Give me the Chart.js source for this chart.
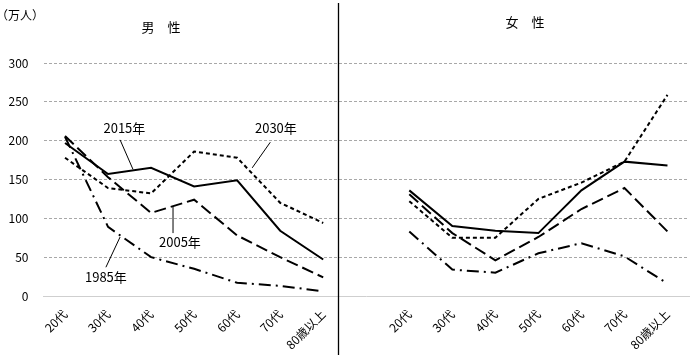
<!DOCTYPE html>
<html>
<head>
<meta charset="utf-8">
<script src="https://cdn.jsdelivr.net/npm/chart.js@4/dist/chart.umd.min.js"></script>
<style>
  body { margin: 0; background: #fff; }
  #wrap { width: 690px; height: 360px; }
</style>
</head>
<body>
<div id="wrap"><canvas id="myChart" width="690" height="360"></canvas></div>
<script>
// age groups (same for both panels)
var ageLabels = ["20代", "30代", "40代", "50代", "60代", "70代", "80歳以上"];

// 男性 (万人)
var male1985 = [205, 89, 50, 35, 17, 13, 6];
var male2005 = [206, 153, 107, 124, 78, 50, 24];
var male2015 = [197, 157, 165, 141, 149, 84, 47];
var male2030 = [178, 139, 132, 186, 178, 120, 94];

// 女性 (万人)
var female1985 = [83, 34, 30, 55, 68, 51, 16];
var female2005 = [131, 81, 46, 76, 112, 139, 83];
var female2015 = [136, 90, 84, 81, 136, 173, 168];
var female2030 = [122, 75, 75, 125, 146, 173, 259];

var yTicks = [0, 50, 100, 150, 200, 250, 300];

// one empty slot between the two panels
function joinPanels(left, right) {
  return left.concat([null], right);
}
var allLabels = ageLabels.concat([""], ageLabels);

// where the year labels + leader lines go (category index, value)
var yearNotes = [
  { text: "2015年", at: [1.38, 216], line: [[1.28, 201], [1.58, 163]] },
  { text: "2030年", at: [4.90, 216], line: [[4.77, 198], [4.35, 165]] },
  { text: "2005年", at: [2.67, 69], line: [[2.51, 115], [2.51, 81]] },
  { text: "1985年", at: [0.95, 24], line: [[1.28, 76], [0.95, 37]] }
];

Chart.defaults.font.family = "'Noto Sans CJK JP', 'Noto Sans', sans-serif";
Chart.defaults.color = "#000";

var extras = {
  id: "extras",
  afterDraw: function (chart) {
    var ctx = chart.ctx;
    var xs = chart.scales.x, ys = chart.scales.y;
    ctx.save();
    // panel separator
    var sepX = Math.round(xs.getPixelForValue(6.35)) + 0.5;
    ctx.strokeStyle = "#000";
    ctx.lineWidth = 1.3;
    ctx.beginPath();
    ctx.moveTo(sepX, 3);
    ctx.lineTo(sepX, chart.height - 5);
    ctx.stroke();

    // panel titles
    ctx.fillStyle = "#000";
    ctx.textAlign = "center";
    ctx.textBaseline = "middle";
    ctx.font = "13px 'Noto Sans CJK JP'";
    ctx.fillText("男　性", xs.getPixelForValue(2.23), 27);
    ctx.fillText("女　性", xs.getPixelForValue(10.69), 22);

    // unit
    ctx.textAlign = "left";
    ctx.font = "12px 'Noto Sans CJK JP'";
    ctx.fillText("（万人）", -4, 15);

    // year labels
    ctx.textAlign = "center";
    ctx.font = "13px 'Noto Sans CJK JP'";
    ctx.lineWidth = 1;
    yearNotes.forEach(function (n) {
      ctx.fillText(n.text, xs.getPixelForValue(n.at[0]), ys.getPixelForValue(n.at[1]));
      ctx.beginPath();
      ctx.moveTo(xs.getPixelForValue(n.line[0][0]), ys.getPixelForValue(n.line[0][1]));
      ctx.lineTo(xs.getPixelForValue(n.line[1][0]), ys.getPixelForValue(n.line[1][1]));
      ctx.stroke();
    });
    ctx.restore();
  }
};

function lineSet(label, data, dash) {
  return {
    label: label,
    data: data,
    borderColor: "#000",
    borderWidth: 2,
    borderDash: dash,
    pointRadius: 0,
    tension: 0,
    spanGaps: false,
    fill: false
  };
}

var ctx = document.getElementById("myChart");
var myChart = new Chart(ctx, {
  type: "line",
  data: {
    labels: allLabels,
    datasets: [
      lineSet("1985年", joinPanels(male1985, female1985), [12, 5, 2, 5]),
      lineSet("2005年", joinPanels(male2005, female2005), [12, 5]),
      lineSet("2015年", joinPanels(male2015, female2015), []),
      lineSet("2030年", joinPanels(male2030, female2030), [4, 3])
    ]
  },
  options: {
    responsive: false,
    animation: false,
    layout: { padding: { left: 8, right: 1, top: 63, bottom: 0 } },
    plugins: {
      legend: { display: false },
      tooltip: { enabled: false }
    },
    scales: {
      x: {
        offset: true,
        grid: { display: false, drawTicks: false },
        border: { display: true, color: "#cfcfcf", width: 1 },
        ticks: {
          autoSkip: false,
          minRotation: 45,
          maxRotation: 45,
          padding: 11,
          font: { size: 12 }
        },
        afterFit: function (axis) {
          axis.paddingLeft = 0;
          axis.height = 64;
        }
      },
      y: {
        min: 0,
        max: 300,
        afterBuildTicks: function (axis) {
          axis.ticks = yTicks.map(function (v) { return { value: v }; });
        },
        grid: {
          drawTicks: false,
          color: function (c) { return c.tick && c.tick.value === 0 ? "rgba(0,0,0,0)" : "#a8a8a8"; },
          lineWidth: 1
        },
        border: { display: false, dash: [3, 2] },
        ticks: { padding: 15, font: { size: 12 } },
        afterFit: function (axis) {
          axis.width = 35.5;
        }
      }
    }
  },
  plugins: [extras]
});
</script>
</body>
</html>
